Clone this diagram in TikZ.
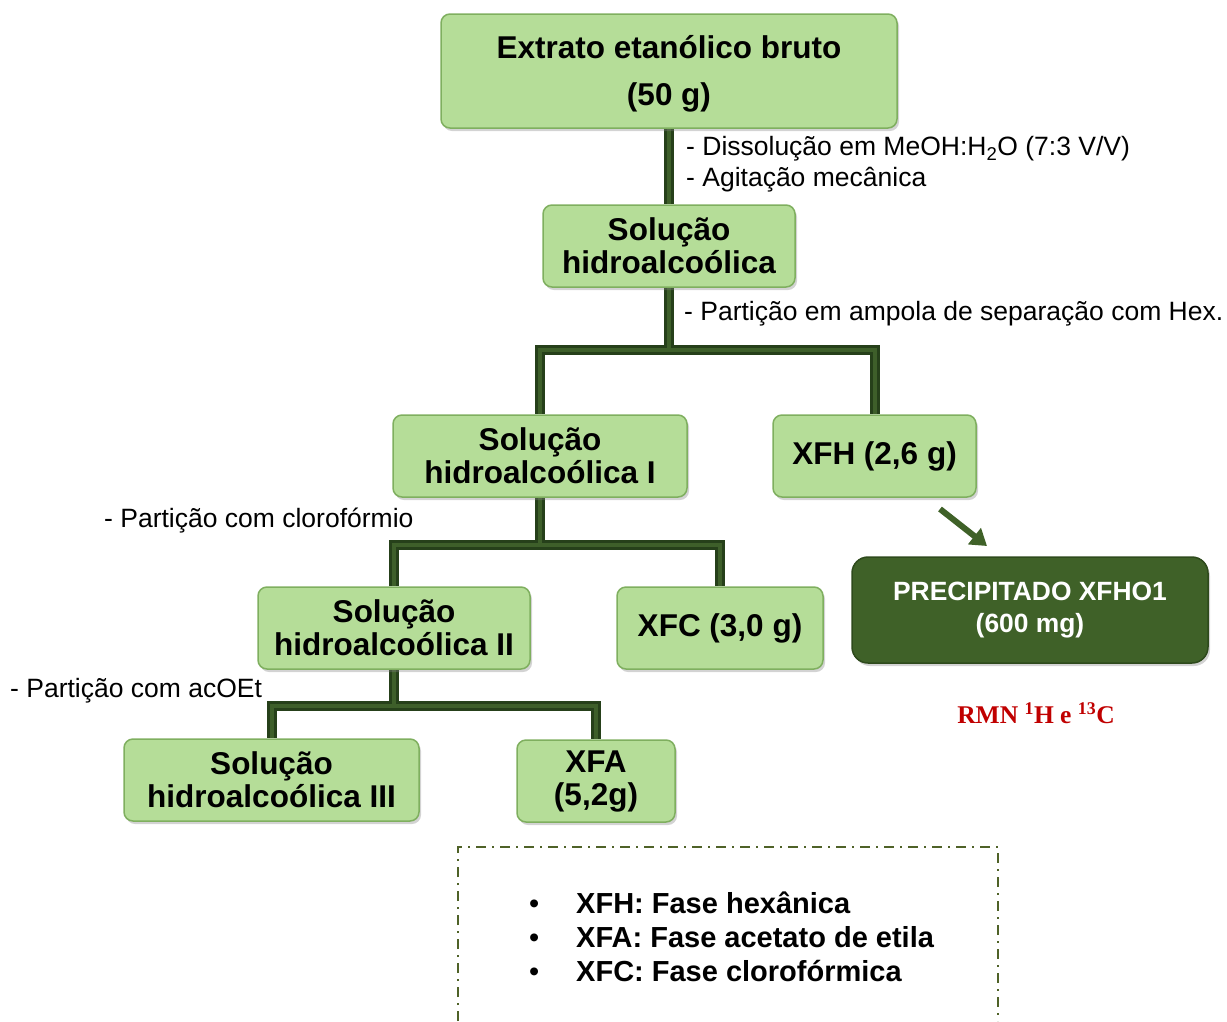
\documentclass[tikz,border=0pt]{standalone}
\usepackage{fontspec}
\setmainfont{Liberation Sans}
\newfontfamily\serifrmn{Liberation Serif}
\usetikzlibrary{shadows,arrows.meta}
\pgfdeclarelayer{bg}
\pgfsetlayers{bg,main}
\definecolor{boxfill}{HTML}{B5DD98}
\definecolor{boxedge}{HTML}{7FAF5F}
\definecolor{conndark}{HTML}{26401A}
\definecolor{connlight}{HTML}{3E5F2A}
\definecolor{precfill}{HTML}{3F6128}
\definecolor{precedge}{HTML}{2E4A1C}
\definecolor{rmnred}{HTML}{C00000}
\definecolor{dashgreen}{HTML}{4F6228}
\tikzset{
  gbox/.style={draw=boxedge, line width=1.5pt, fill=boxfill, rounded corners=9pt,
    minimum width=#1, minimum height=82pt, inner sep=0pt, align=center,
    font=\fontsize{31.5}{33}\selectfont\bfseries,
    drop shadow={shadow xshift=2pt, shadow yshift=-3pt, opacity=0.35}},
  conn/.style={line width=10pt, draw=conndark, line join=miter},
  connin/.style={line width=4pt, draw=connlight, line join=miter},
  lbl/.style={anchor=west, inner sep=0pt, font=\fontsize{26.5}{28}\selectfont}
}
\begin{document}
\begin{tikzpicture}[x=1pt,y=-1pt]
\useasboundingbox (0,0) rectangle (1227,1021);
\coordinate (j1) at (669,350);
\coordinate (j2) at (540,545);
\coordinate (j3) at (394,706);
\node[gbox=456pt, minimum height=114pt] (top) at (669,71) {};
\node[align=center, inner sep=0pt, font=\fontsize{31.5}{47}\selectfont\bfseries] (toptext) at (669,74) {Extrato etanólico bruto\\(50 g)};
\node[gbox=252pt] (sol) at (669,246) {Solução\\hidroalcoólica};
\node[gbox=294pt] (solI) at (540,456) {Solução\\hidroalcoólica I};
\node[gbox=203pt] (xfh) at (874.5,456) {XFH (2,6 g)};
\node[gbox=272pt] (solII) at (394,628) {Solução\\hidroalcoólica II};
\node[gbox=206pt] (xfc) at (720,628) {XFC (3,0 g)};
\node[gbox=295pt] (solIII) at (271.5,780) {Solução\\hidroalcoólica III};
\node[gbox=158pt] (xfa) at (596,781) {XFA\\(5,2g)};
\node[draw=precedge, line width=1.5pt, fill=precfill, rounded corners=16pt,
  minimum width=356pt, minimum height=106pt, align=center, text=white,
  font=\fontsize{26.4}{32}\selectfont\bfseries,
  drop shadow={shadow xshift=2pt, shadow yshift=-3pt, opacity=0.35}] (prec) at (1030,610)
  {PRECIPITADO XFHO1\\(600 mg)};
% connectors behind the boxes
\begin{pgfonlayer}{bg}
\foreach \s in {conn,connin}{
  \draw[\s] (top.south) -- (sol.north);
  \draw[\s] (sol.south) -- (j1);
  \draw[\s] (j1) -| (solI.north);
  \draw[\s] (j1) -| (xfh.north);
  \draw[\s] (solI.south) -- (j2);
  \draw[\s] (j2) -| (solII.north);
  \draw[\s] (j2) -| (xfc.north);
  \draw[\s] (solII.south) -- (j3);
  \draw[\s] (j3) -| (solIII.north);
  \draw[\s] (j3) -| (xfa.north);
}
\end{pgfonlayer}
% arrow to precipitate
\coordinate (a1) at (940,509);
\coordinate (a2) at (987,546);
\draw[line width=6pt, precfill, -{Triangle[length=16pt,width=20pt]}] (a1) -- (a2);
% labels
\node[lbl] (l1) at (686,149) {- Dissolução em MeOH:H\textsubscript{2}O (7:3 V/V)};
\node[lbl] (l2) at (686,180) {- Agitação mecânica};
\node[lbl] (l3) at (684,314) {- Partição em ampola de separação com Hex.};
\node[lbl] (l4) at (104,521) {- Partição com clorofórmio};
\node[lbl] (l5) at (10,691) {- Partição com acOEt};
\node[text=rmnred, font=\fontsize{25.5}{27}\selectfont\serifrmn\bfseries, inner sep=0pt] (rmn) at (1036,713)
  {RMN \textsuperscript{1}H e \textsuperscript{13}C};
% legend box
\coordinate (d1) at (458,1021);
\coordinate (d2) at (458,847);
\coordinate (d3) at (998,847);
\coordinate (d4) at (998,1021);
\draw[dashgreen, line width=1.6pt, dash pattern=on 10pt off 6pt on 2pt off 6pt] (d1) -- (d2) -- (d3) -- (d4);
\node[anchor=west, inner sep=0pt, align=left, font=\fontsize{29}{34}\selectfont\bfseries] (leg) at (529,937)
  {\makebox[47pt][l]{\mdseries•}XFH: Fase hexânica\\
   \makebox[47pt][l]{\mdseries•}XFA: Fase acetato de etila\\
   \makebox[47pt][l]{\mdseries•}XFC: Fase clorofórmica};
\end{tikzpicture}
\end{document}
